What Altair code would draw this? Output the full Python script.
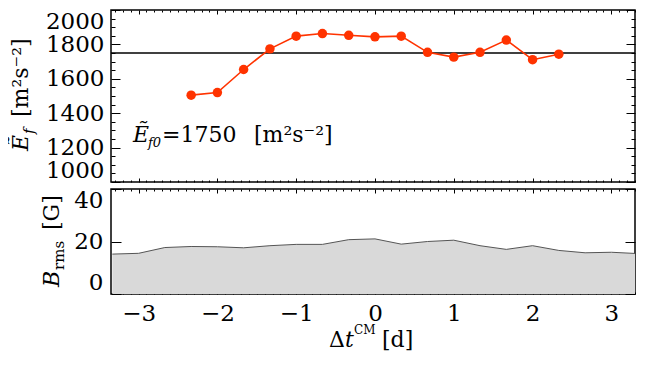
import altair as alt
import pandas as pd

# ---------------- data ----------------
e_days = [-2.333, -2.0, -1.667, -1.333, -1.0, -0.667, -0.333, 0.0, 0.333,
          0.667, 1.0, 1.333, 1.667, 2.0, 2.333]
e_flux = [1505, 1520, 1654, 1774, 1848, 1863, 1853, 1844, 1848,
          1754, 1726, 1754, 1825, 1711, 1743]
e_ref = [1750]

b_days = [-3.333, -3.0, -2.667, -2.333, -2.0, -1.667, -1.333, -1.0, -0.667,
          -0.333, 0.0, 0.333, 0.667, 1.0, 1.333, 1.667, 2.0, 2.333, 2.667,
          3.0, 3.333]
b_rms = [15.2, 15.5, 17.7, 18.1, 18.0, 17.6, 18.4, 18.9, 18.9,
         20.7, 21.0, 19.0, 20.0, 20.5, 18.4, 17.0, 18.4, 16.6, 15.7,
         15.9, 15.4]

x_major = [-3, -2, -1, 0, 1, 2, 3]
x_minor = [round(i * 0.1, 1) for i in range(-33, 34) if i % 10 != 0]
e_major = [1000, 1200, 1400, 1600, 1800, 2000]
e_minor = [v for v in range(1000, 2001, 50) if v % 200 != 0]
b_major = [0, 20, 40]

# ---------------- style ----------------
RED = "#ff3300"
SERIF = "DejaVu Serif"
FS = 22       # titles
FS_TICK = 23  # tick labels
W = 524
H_TOP = 172
H_BOT = 105
X_MIN, X_MAX = -3.35, 3.3

xs = alt.Scale(domain=[X_MIN, X_MAX], nice=False, zero=False)
ys_top = alt.Scale(domain=[1000, 2000], nice=False, zero=False)
ys_bot = alt.Scale(domain=[0, 40], nice=False, zero=False)

top_df = pd.DataFrame({"day": e_days, "ef": e_flux})
ref_df = pd.DataFrame({"ref": e_ref})
bot_df = pd.DataFrame({"day": b_days, "b": b_rms})
one = pd.DataFrame({"k": [0]})


def ax(orient, values, size=0, labels=False, at=None, **kw):
    """Axis helper. Tick-only axes point inward: the axis line is moved
    into the plot by `size`, or placed at `at` px (opposite edge)."""
    d = dict(orient=orient, values=values, domain=False, grid=False,
             title=None, labels=labels, ticks=size > 0)
    if size > 0:
        d.update(tickSize=size, offset=-(at if at is not None else size),
                 tickColor="black", tickWidth=1, minExtent=0, maxExtent=0,
                 labelPadding=0)
    else:
        d.update(tickSize=0)
    if labels:
        d.update(labelFont=SERIF, labelFontSize=FS_TICK, labelColor="black",
                 format="d", labelOverlap=False)
    d.update(kw)
    return alt.Axis(**d)


def axis_layer(df, xf, yf, ysc, xaxis, yaxis):
    return alt.Chart(df).transform_filter(
        (alt.datum[xf] >= X_MIN) & (alt.datum[xf] <= X_MAX)
    ).mark_point(opacity=0, size=1).encode(
        x=alt.X(f"{xf}:Q", scale=xs, axis=xaxis),
        y=alt.Y(f"{yf}:Q", scale=ysc, axis=yaxis),
    )


def txt(s, x, y, size=FS, style="normal", angle=0, align="left"):
    props = dict(font=SERIF, fontSize=size, fontStyle=style, color="black",
                 align=align, baseline="alphabetic")
    if angle:
        props["angle"] = angle
    return alt.Chart(one).mark_text(**props).encode(
        x=alt.value(x), y=alt.value(y), text=alt.value(s))


# invisible anchor fixing the left extent of the figure
anchor = alt.Chart(one).mark_rule(stroke="white", strokeOpacity=0).encode(
    x=alt.value(-102), x2=alt.value(-101), y=alt.value(60))

# ---------------- top panel ----------------
top_line = alt.Chart(top_df).mark_line(color=RED, strokeWidth=1.6).encode(
    x=alt.X("day:Q", scale=xs, axis=None),
    y=alt.Y("ef:Q", scale=ys_top, axis=None))
top_pts = alt.Chart(top_df).mark_circle(color=RED, size=90, opacity=1).encode(
    x=alt.X("day:Q", scale=xs, axis=None),
    y=alt.Y("ef:Q", scale=ys_top, axis=None))
top_rule = alt.Chart(ref_df).mark_rule(color="black", strokeWidth=1.5).encode(
    y=alt.Y("ref:Q", scale=ys_top, axis=None))

top_axes = [
    axis_layer(top_df, "day", "ef", ys_top, None,
               ax("left", e_major, labels=True, labelPadding=7, labelFlush=True)),
    # bottom / left inward ticks
    axis_layer(top_df, "day", "ef", ys_top, ax("bottom", x_major, 4), ax("left", e_major, 9)),
    axis_layer(top_df, "day", "ef", ys_top, ax("bottom", x_minor, 2), ax("left", e_minor, 4)),
    # top / right inward ticks (axis lines moved to the opposite edge)
    axis_layer(top_df, "day", "ef", ys_top, ax("bottom", x_major, 4, at=H_TOP),
               ax("left", e_major, 9, at=W)),
    axis_layer(top_df, "day", "ef", ys_top, ax("bottom", x_minor, 2, at=H_TOP),
               ax("left", e_minor, 4, at=W)),
]

top_texts = [
    # y title (rotated)
    txt("Ẽ", -83, 141, style="italic", angle=270),
    txt("f", -77, 124, size=15, style="italic", angle=270),
    txt("[m²s⁻²]", -83, 107, angle=270),
    # annotation
    txt("Ẽ", 22, 132, style="italic"),
    txt("f0", 37, 137, size=13, style="italic"),
    txt("=1750", 51, 132),
    txt("[m²s⁻²]", 143, 132),
]

top = alt.layer(anchor, top_rule, top_line, top_pts, *top_axes, *top_texts).resolve_axis(
    x="independent", y="independent").properties(width=W, height=H_TOP)

# ---------------- bottom panel ----------------
bot_area = alt.Chart(bot_df).mark_area(color="#d9d9d9", opacity=1, clip=True).encode(
    x=alt.X("day:Q", scale=xs, axis=None),
    y=alt.Y("b:Q", scale=ys_bot, axis=None))
bot_line = alt.Chart(bot_df).mark_line(color="#555555", strokeWidth=1, clip=True).encode(
    x=alt.X("day:Q", scale=xs, axis=None),
    y=alt.Y("b:Q", scale=ys_bot, axis=None))

bot_axes = [
    axis_layer(bot_df, "day", "b", ys_bot,
               ax("bottom", x_major, labels=True, labelPadding=8),
               ax("left", b_major, labels=True, labelPadding=8, labelFlush=True)),
    axis_layer(bot_df, "day", "b", ys_bot, ax("bottom", x_major, 4), ax("left", b_major, 10)),
    axis_layer(bot_df, "day", "b", ys_bot, ax("bottom", x_minor, 2), None),
    axis_layer(bot_df, "day", "b", ys_bot, ax("bottom", x_major, 4, at=H_BOT),
               ax("left", b_major, 10, at=W)),
    axis_layer(bot_df, "day", "b", ys_bot, ax("bottom", x_minor, 2, at=H_BOT), None),
]

bot_texts = [
    txt("B", -52, 98, style="italic", angle=270),
    txt("rms", -47, 81, size=15, angle=270),
    txt("[G]", -52, 41, angle=270),
    # x title
    txt("Δ", 218, 158),
    txt("t", 234, 158, style="italic"),
    txt("CM", 243, 145, size=12),
    txt("[d]", 271, 158),
]

bot = alt.layer(bot_area, bot_line, *bot_axes, *bot_texts).resolve_axis(
    x="independent", y="independent").properties(width=W, height=H_BOT)

chart = alt.vconcat(top, bot, spacing=7, bounds="flush", padding=0).configure(
    padding=0, background="white"
).configure_view(stroke="black", strokeWidth=1.5)

chart.save("out.html", embed_options={"renderer": "svg", "actions": False})
